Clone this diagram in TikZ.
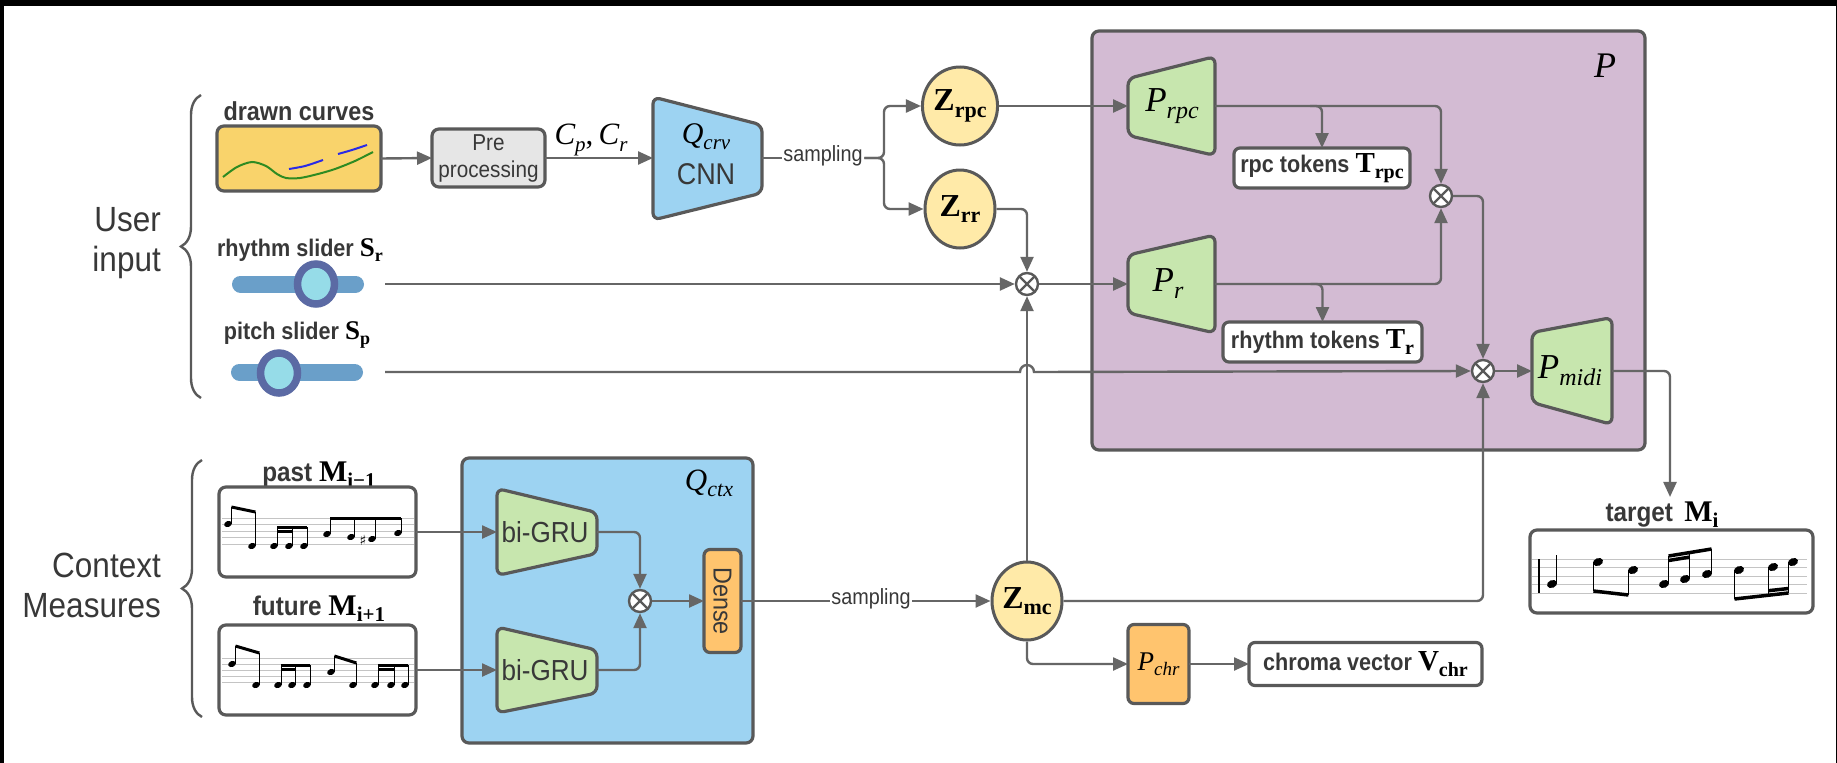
\documentclass[tikz,border=0pt]{standalone}
\usepackage[no-math]{fontspec}
\setmainfont[FakeStretch=0.9]{Liberation Sans}
\newfontfamily\tms{Liberation Serif}
\newfontfamily\symfont{DejaVu Sans}
\usetikzlibrary{arrows.meta,calc,shapes.geometric,decorations.pathreplacing}

\definecolor{linec}{HTML}{666666}
\definecolor{edgec}{HTML}{595959}
\definecolor{txtc}{HTML}{383838}
\definecolor{yellowfill}{HTML}{F9D36B}
\definecolor{greyfill}{HTML}{E6E6E6}
\definecolor{bluefill}{HTML}{9DD3F2}
\definecolor{purplefill}{HTML}{D3BBD3}
\definecolor{greenfill}{HTML}{C7E6AE}
\definecolor{zfill}{HTML}{FFEAA8}
\definecolor{orangefill}{HTML}{FFC46E}
\definecolor{barc}{HTML}{6A9FC9}
\definecolor{ringc}{HTML}{5B6AA4}
\definecolor{knobc}{HTML}{96DCE8}
\definecolor{staffc}{HTML}{C4C4C4}
\definecolor{curvegreen}{HTML}{2E8B22}
\definecolor{curveblue}{HTML}{2A2AE6}

% serif symbol with a lowered subscript: shape, size, subscript size, base, subscript
\newcommand\symsub[5]{{\color{black}\tms#1\fontsize{#2}{#2}\selectfont#4\raisebox{-0.2em}{\fontsize{#3}{#3}\selectfont#5}}}
\newcommand\isub[4]{\symsub{\itshape}{#1}{#2}{#3}{#4}}
\newcommand\bsub[4]{\symsub{\bfseries}{#1}{#2}{#3}{#4}}

% notes: head x, head y, stem end y, head radius
\newcommand\noteup[4]{%
  \fill[rotate around={22:(#1,#2)}] (#1,#2) ellipse [x radius=#4, y radius=0.74*#4];
  \draw[line width=1.1pt] (#1+#4-0.6,#2) -- (#1+#4-0.6,#3);}
\newcommand\notedown[4]{%
  \fill[rotate around={22:(#1,#2)}] (#1,#2) ellipse [x radius=#4, y radius=0.74*#4];
  \draw[line width=1.1pt] (#1-#4+0.6,#2) -- (#1-#4+0.6,#3);}

\begin{document}
\begin{tikzpicture}[x=1pt,y=-1pt,
  conn/.style={draw=linec, line width=2.4pt, rounded corners=6pt},
  arr/.style={conn, -{Triangle[length=15pt,width=13pt]}},
  frame/.style={draw=edgec, line width=3.2pt, rounded corners=7pt},
  shell/.style={inner sep=0pt, outer sep=0pt},
  trap/.style={draw=edgec, line width=3.2pt, rounded corners=7pt, fill=greenfill},
  zell/.style={ellipse, draw=edgec, fill=zfill, line width=3pt, inner sep=0pt,
    minimum width=70pt, minimum height=78pt},
  mult/.style={circle, draw=edgec, fill=white, line width=2.4pt, minimum size=22pt,
    inner sep=0pt, path picture={\draw[edgec, line width=2.4pt]
      (path picture bounding box.north west) -- (path picture bounding box.south east)
      (path picture bounding box.north east) -- (path picture bounding box.south west);}},
  lbl/.style={text=txtc, inner sep=1pt},
  bracedeco/.style={draw=edgec, line width=2.4pt, decorate, decoration={brace, amplitude=20pt}},
  staff/.style={staffc, line width=1pt},
  beam/.style={line width=3pt}
]
% canvas with its dark top and left edge
\fill[black] (0,0) rectangle (1837,763);
\fill[white] (4,6) rectangle (1836,763);

% ---------------- user input ----------------
\node[lbl, anchor=east, align=right, font=\fontsize{35}{40}\selectfont] (userlbl) at (162,243) {User\\input};
\draw[bracedeco] (201,398) -- (201,95);

\node[frame, fill=yellowfill, shell, minimum width=164pt, minimum height=65pt] (curves) at (299,158.5) {};
\draw[curvegreen, line width=2pt] plot[smooth] coordinates {(223,177) (237,167) (252,162) (266,166) (277,174) (286,178) (300,178) (318,174) (335,169) (355,161) (373,152)};
\draw[curveblue, line width=2pt] plot[smooth] coordinates {(289,169) (305,166) (323,160)};
\draw[curveblue, line width=2pt] plot[smooth] coordinates {(338,154) (352,150) (367,145)};
\node[lbl, font=\bfseries\fontsize{26}{26}\selectfont] (curveslbl) at (299,111) {drawn curves};

\node[frame, fill=greyfill, shell, minimum width=113pt, minimum height=58pt, align=center,
  font=\fontsize{23}{27}\selectfont, text=txtc] (pre) at (488.5,158) {Pre\\processing};
\node (cpcr) at (591,140) {\isub{31}{21}{C}{p}{\tms\fontsize{31}{31}\selectfont,\,}\isub{31}{21}{C}{r}};

\node[shell, minimum width=109pt, minimum height=123pt] (qcrv) at (707.5,158.5) {};
\draw[trap, fill=bluefill] (qcrv.north west) -- ($(qcrv.north east)+(0,28)$) -- ($(qcrv.south east)+(0,-27)$) -- (qcrv.south west) -- cycle;
\node (qcrvlbl) at (706,137) {\isub{30}{21}{Q}{crv}};
\node[font=\fontsize{30}{30}\selectfont, text=txtc] (cnn) at (706,174) {CNN};

\node[lbl, fill=white, font=\fontsize{22}{22}\selectfont, inner sep=1.5pt] (samp1) at (823,156) {sampling};
\coordinate (fork) at (884,158);

% sliders
\node[shell, minimum width=135pt, minimum height=50pt] (rslider) at (298,284) {};
\draw[barc, line width=17pt, line cap=round] (240.5,284) -- (355.5,284);
\draw[ringc, fill=knobc, line width=7.5pt] (316,284) ellipse [x radius=18.5, y radius=20];
\coordinate (rsout) at (385,284);
\node[lbl, font=\bfseries\fontsize{24}{24}\selectfont] (rslbl) at (300,250) {rhythm slider \bsub{27}{18}{S}{r}};

\node[shell, minimum width=135pt, minimum height=50pt] (pslider) at (297,372) {};
\draw[barc, line width=17pt, line cap=round] (239.5,372) -- (354.5,372);
\draw[ringc, fill=knobc, line width=7.5pt] (279,373) ellipse [x radius=18.5, y radius=20];
\coordinate (psout) at (385,372);
\node[lbl, font=\bfseries\fontsize{24}{24}\selectfont] (pslbl) at (297,335) {pitch slider \bsub{27}{18}{S}{p}};

% latent codes
\node[zell] (zrpc) at (960,106) {\bsub{32}{22}{Z}{rpc}};
\node[zell] (zrr) at (960,209) {\bsub{32}{22}{Z}{rr}};

% ---------------- decoder P ----------------
\node[frame, fill=purplefill, shell, minimum width=553pt, minimum height=419pt] (pbox) at (1368.5,240.5) {};
\node (plbl) at (1605,66) {\tms\itshape\fontsize{36}{36}\selectfont P};

\node[shell, minimum width=87pt, minimum height=99pt] (prpc) at (1171.5,106) {};
\draw[trap] ($(prpc.north west)+(0,22)$) -- (prpc.north east) -- (prpc.south east) -- ($(prpc.south west)+(0,-20)$) -- cycle;
\node (prpclbl) at (1172,106) {\isub{35}{24}{P}{rpc}};

\node[shell, minimum width=87pt, minimum height=98pt] (pr) at (1171.5,284) {};
\draw[trap] ($(pr.north west)+(0,20)$) -- (pr.north east) -- (pr.south east) -- ($(pr.south west)+(0,-20)$) -- cycle;
\node (prlbl) at (1168,284) {\isub{35}{24}{P}{r}};

\node[shell, minimum width=80pt, minimum height=107pt] (pmidi) at (1572,371) {};
\draw[trap] ($(pmidi.north west)+(0,15)$) -- (pmidi.north east) -- (pmidi.south east) -- ($(pmidi.south west)+(0,-22)$) -- cycle;
\node (pmidilbl) at (1570,371) {\isub{35}{24}{P}{midi}};

\node[frame, fill=white, shell, minimum width=176pt, minimum height=40pt, rounded corners=6pt,
  font=\bfseries\fontsize{24}{24}\selectfont, text=txtc] (rpctok) at (1322,168) {rpc tokens \bsub{29}{20}{T}{rpc}};
\node[frame, fill=white, shell, minimum width=199pt, minimum height=40pt, rounded corners=6pt,
  font=\bfseries\fontsize{24}{24}\selectfont, text=txtc] (rhytok) at (1322.5,342) {rhythm tokens \bsub{29}{20}{T}{r}};

\node[mult] (mulA) at (1027,284) {};
\node[mult] (mulB) at (1441,196) {};
\node[mult] (mulC) at (1483,371) {};

% ---------------- context ----------------
\node[lbl, anchor=east, align=right, font=\fontsize{35}{40}\selectfont] (ctxlbl) at (162,585) {Context\\Measures};
\draw[bracedeco] (202,717) -- (202,460);

\node[lbl, font=\bfseries\fontsize{27}{27}\selectfont] (pastlbl) at (319,475) {past \bsub{30}{21}{M}{i−1}};
\node[frame, fill=white, shell, minimum width=197pt, minimum height=90pt] (past) at (317.5,532) {};
\node[lbl, font=\bfseries\fontsize{27}{27}\selectfont] (futlbl) at (319,609) {future \bsub{30}{21}{M}{i+1}};
\node[frame, fill=white, shell, minimum width=197pt, minimum height=90pt] (future) at (317.5,670) {};

% past measure
\foreach \yy in {518,524.5,531,537.5,544} \draw[staff] (222,\yy) -- (414,\yy);
\noteup{228}{524}{507}{4} \noteup{252}{546}{512}{4}
\draw[beam] (231.4,507) -- (255.4,512);
\noteup{274}{546}{527}{4} \noteup{289}{546}{527}{4} \noteup{304}{546}{527}{4}
\draw[beam] (277.4,527) -- (307.4,527); \draw[beam] (277.4,531) -- (292.4,531);
\noteup{327}{534}{518}{4} \noteup{351}{537}{518}{4} \noteup{372}{539}{518}{4} \noteup{398}{533}{518}{4}
\draw[beam] (330.4,518) -- (401.4,518);
\node[inner sep=0pt, font=\symfont\fontsize{14}{14}\selectfont] (sharp) at (363,540) {♯};

% future measure
\foreach \yy in {658,664,670,676,682} \draw[staff] (222,\yy) -- (414,\yy);
\noteup{232}{664}{646}{4} \noteup{256}{685}{653}{4}
\draw[beam] (235.4,646) -- (259.4,653);
\noteup{278}{685}{665}{4} \noteup{292}{685}{665}{4} \noteup{307}{685}{665}{4}
\draw[beam] (281.4,665) -- (310.4,665); \draw[beam] (281.4,669) -- (295.4,669);
\noteup{331}{672}{656}{4} \noteup{353}{685}{663}{4}
\draw[beam] (334.4,656) -- (356.4,663);
\noteup{375}{685}{665}{4} \noteup{391}{685}{665}{4} \noteup{405}{685}{665}{4}
\draw[beam] (378.4,665) -- (408.4,665); \draw[beam] (378.4,669) -- (394.4,669);

% context encoder
\node[frame, fill=bluefill, shell, minimum width=291pt, minimum height=285pt] (qctx) at (607.5,600.5) {};
\node (qctxlbl) at (709,483) {\isub{31}{22}{Q}{ctx}};

\node[shell, minimum width=100pt, minimum height=87pt] (gru1) at (547,532) {};
\draw[trap] (gru1.north west) -- ($(gru1.north east)+(0,24)$) -- ($(gru1.south east)+(0,-22)$) -- (gru1.south west) -- cycle;
\node[font=\fontsize{29}{29}\selectfont, text=txtc] (gru1lbl) at (545,532) {bi-GRU};

\node[shell, minimum width=100pt, minimum height=86pt] (gru2) at (547,670) {};
\draw[trap] (gru2.north west) -- ($(gru2.north east)+(0,23)$) -- ($(gru2.south east)+(0,-20)$) -- (gru2.south west) -- cycle;
\node[font=\fontsize{29}{29}\selectfont, text=txtc] (gru2lbl) at (545,670) {bi-GRU};

\node[mult] (mulD) at (640,601) {};
\node[frame, fill=orangefill, shell, minimum width=37pt, minimum height=103pt, rounded corners=6pt] (dense) at (722.5,601) {};
\node[rotate=-90, font=\fontsize{26}{26}\selectfont, text=txtc] (denselbl) at (dense) {Dense};

\node[lbl, fill=white, font=\fontsize{22}{22}\selectfont, inner sep=1.5pt] (samp2) at (871,599) {sampling};
\node[zell] (zmc) at (1027,601) {\bsub{32}{22}{Z}{mc}};

\node[frame, fill=orangefill, shell, minimum width=61pt, minimum height=79pt, rounded corners=6pt] (pchr) at (1158.5,664) {\isub{27}{19}{P}{chr}};
\node[frame, fill=white, shell, minimum width=233pt, minimum height=43pt, rounded corners=6pt,
  font=\bfseries\fontsize{24}{24}\selectfont, text=txtc] (chroma) at (1365.5,664) {chroma vector \bsub{29}{20}{V}{chr}};

% target measure
\node[lbl, font=\bfseries\fontsize{27}{27}\selectfont] (tgtlbl) at (1662,515) {target\, \bsub{30}{21}{M}{i}};
\node[frame, fill=white, shell, minimum width=283pt, minimum height=83pt] (tgt) at (1671.5,571.5) {};
\foreach \yy in {559,567.5,576,584.5,593} \draw[staff] (1532,\yy) -- (1807,\yy);
\draw[line width=1.5pt] (1539,559) -- (1539,593);
\noteup{1552}{584}{555}{5.2}
\notedown{1598}{562}{591}{5.2} \notedown{1633}{570}{595}{5.2}
\draw[line width=3.5pt] (1593.4,591) -- (1628.4,595);
\noteup{1664}{584}{556}{5.2} \noteup{1685}{579}{553}{5.2} \noteup{1707}{574}{549}{5.2}
\draw[line width=3.5pt] (1668.6,556) -- (1711.6,549);
\draw[line width=3.5pt] (1668.6,560.5) -- (1689.6,557.1);
\notedown{1739}{570}{599}{5.2} \notedown{1773}{567}{596}{5.2} \notedown{1793}{562}{593}{5.2}
\draw[line width=3.5pt] (1734.4,599) -- (1788.4,593);
\draw[line width=3.5pt] (1768.4,590.7) -- (1788.4,588.5);

% ---------------- connectors ----------------
\draw[arr] (curves.east) -- (pre.west);
\draw[arr] (pre.east) -- (pre.east -| qcrv.west);
\draw[conn] (qcrv.east |- fork) -- (samp1.west |- fork);
\draw[arr] (samp1.east |- fork) -- (fork) |- (zrpc.west);
\draw[arr] (samp1.east |- fork) -- (fork) |- (zrr.west);
\draw[arr] (zrpc.east) -- (prpc.west);
\draw[arr] (zrr.east) -| (mulA.north);
\draw[arr] (rsout) -- (mulA.west);
\draw[arr] (zmc.north) -- (mulA.south);
\draw[arr] (mulA.east) -- (pr.west);
\draw[arr] (prpc.east) -| (mulB.north);
\draw[arr] ($(prpc.east -| rpctok.north)+(-12,0)$) -| (rpctok.north);
\draw[arr] (pr.east) -| (mulB.south);
\draw[arr] ($(pr.east -| rhytok.north)+(-12,0)$) -| (rhytok.north);
\draw[arr] (mulB.east) -| (mulC.north);
\draw[arr, sharp corners] (psout) -- ($(psout -| mulA)+(-7,0)$) arc[start angle=180, end angle=360, radius=7] -- (mulC.west);
\draw[arr] (zmc.east) -| (mulC.south);
\draw[arr] (mulC.east) -- (pmidi.west);
\draw[arr] (pmidi.east) -| ([xshift=8pt,yshift=4pt]tgtlbl.north);
\draw[arr] (past.east) -- (gru1.west);
\draw[arr] (future.east) -- (gru2.west);
\draw[arr] (gru1.east) -| (mulD.north);
\draw[arr] (gru2.east) -| (mulD.south);
\draw[arr] (mulD.east) -- (dense.west);
\draw[conn] (dense.east) -- (samp2.west |- dense.east);
\draw[arr] (samp2.east |- zmc.west) -- (zmc.west);
\draw[arr] (zmc.south) |- (pchr.west);
\draw[arr] (pchr.east) -- (chroma.west);
\end{tikzpicture}
\end{document}
